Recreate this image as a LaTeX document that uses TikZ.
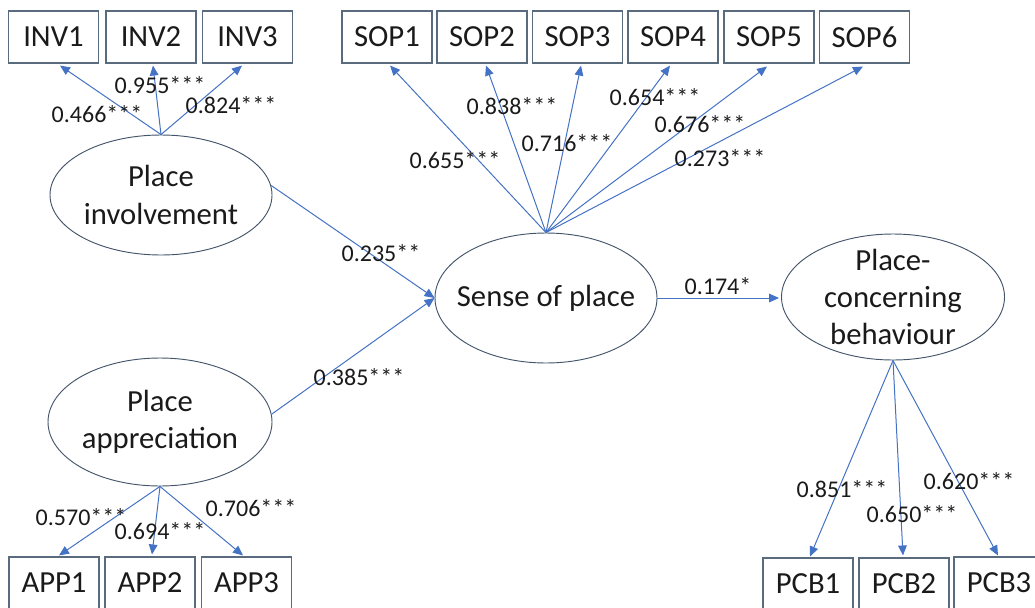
\documentclass[tikz,border=0pt]{standalone}
\usepackage{fontspec}
\setmainfont{Carlito}
\usetikzlibrary{arrows.meta,calc,shapes.geometric}
\definecolor{arrowblue}{HTML}{4472C4}
\definecolor{boxline}{HTML}{5A6B7D}
\definecolor{ellline}{HTML}{44546A}
\definecolor{txt}{HTML}{1A1A1A}
\begin{document}
\begin{tikzpicture}[x=0.75pt,y=-0.75pt,
  obs/.style={draw=boxline, line width=0.8pt, minimum width=67.5pt, minimum height=39pt, inner sep=0pt, font=\fontsize{23}{28}\selectfont, text=txt},
  lat/.style={draw=ellline, ellipse, line width=0.7pt, inner sep=0pt},
  lattext/.style={align=center, font=\fontsize{23}{28}\selectfont, text=txt, inner sep=0pt},
  pth/.style={draw=arrowblue, line width=0.75pt, -{Triangle[length=7.5pt,width=6.5pt]}},
  lbl/.style={font=\fontsize{18}{20}\selectfont, text=txt, inner sep=0pt}
]
\useasboundingbox (0,0) rectangle (1035,607);
% observed boxes
\node[obs] (inv1) at (53.5,37) {INV1};
\node[obs] (inv2) at (151,37) {INV2};
\node[obs] (inv3) at (247.5,37) {INV3};
\node[obs] (sop1) at (387,37) {SOP1};
\node[obs] (sop2) at (482,37) {SOP2};
\node[obs] (sop3) at (577.5,37) {SOP3};
\node[obs] (sop4) at (673,37) {SOP4};
\node[obs] (sop5) at (769,37) {SOP5};
\node[obs] (sop6) at (864.5,37) {SOP6};
\node[obs] (app1) at (54,583) {APP1};
\node[obs] (app2) at (150,583) {APP2};
\node[obs] (app3) at (246.5,583) {APP3};
\node[obs] (pcb1) at (808,584) {PCB1};
\node[obs] (pcb2) at (904,584) {PCB2};
\node[obs] (pcb3) at (999,583) {PCB3};
% latent ellipses
\node[lat, minimum width=166.5pt, minimum height=90pt] (inv) at (161,195) {};
\node[lattext] (invt) at (inv) {Place\\involvement};
\node[lat, minimum width=168pt, minimum height=96pt] (app) at (160,422) {};
\node[lattext] (appt) at (app) {Place\\appreciation};
\node[lat, minimum width=166.5pt, minimum height=97.5pt] (sop) at (546,298) {};
\node[lattext] (sopt) at (sop) {Sense of place};
\node[lat, minimum width=167.25pt, minimum height=94.5pt] (pcb) at (893,297) {};
\node[lattext] (pcbt) at (pcb) {Place-\\concerning\\behaviour};
% loadings
\draw[pth] (inv.north) -- ($(inv1.south)+(6.5,2)$);
\draw[pth] (inv.north) -- ($(inv2.south)+(2,2)$);
\draw[pth] (inv.north) -- ($(inv3.south)+(-5.5,2)$);
\draw[pth] (sop.north) -- ($(sop1.south)+(3,2)$);
\draw[pth] (sop.north) -- ($(sop2.south)+(4,2)$);
\draw[pth] (sop.north) -- ($(sop3.south)+(3.5,2)$);
\draw[pth] (sop.north) -- ($(sop4.south)+(-3,2)$);
\draw[pth] (sop.north) -- ($(sop5.south)+(-2,3)$);
\draw[pth] (sop.north) -- ($(sop6.south)+(-1.5,3)$);
\draw[pth] (app.south) -- ($(app1.north)+(5,-1)$);
\draw[pth] (app.south) -- ($(app2.north)+(2,-2)$);
\draw[pth] (app.south) -- ($(app3.north)+(-3.5,-1)$);
\draw[pth] (pcb.south) -- ($(pcb1.north)+(2,-1)$);
\draw[pth] (pcb.south) -- ($(pcb2.north)+(-1,-2)$);
\draw[pth] (pcb.south) -- ($(pcb3.north)+(-1,-1)$);
% structural paths
\draw[pth] (inv.5) -- (sop.west);
\draw[pth] (app.4) -- (sop.west);
\draw[pth] (sop.east) -- ($(pcb.west)+(-2,1)$);
% labels
\node[lbl] (l1) at (97,114) {0.466***};
\node[lbl] (l2) at (160,85) {0.955***};
\node[lbl] (l3) at (231,105) {0.824***};
\node[lbl] (l4) at (455,160) {0.655***};
\node[lbl] (l5) at (512,106) {0.838***};
\node[lbl] (l6) at (567,143) {0.716***};
\node[lbl] (l7) at (655,97) {0.654***};
\node[lbl] (l8) at (700,124) {0.676***};
\node[lbl] (l9) at (720,158) {0.273***};
\node[lbl] (l10) at (381,253) {0.235**};
\node[lbl] (l11) at (359,377) {0.385***};
\node[lbl] (l12) at (718,286) {0.174*};
\node[lbl] (l13) at (81,517) {0.570***};
\node[lbl] (l14) at (160,531) {0.694***};
\node[lbl] (l15) at (251,508) {0.706***};
\node[lbl] (l16) at (842,489) {0.851***};
\node[lbl] (l17) at (912,514) {0.650***};
\node[lbl] (l18) at (969,481) {0.620***};
\end{tikzpicture}
\end{document}
